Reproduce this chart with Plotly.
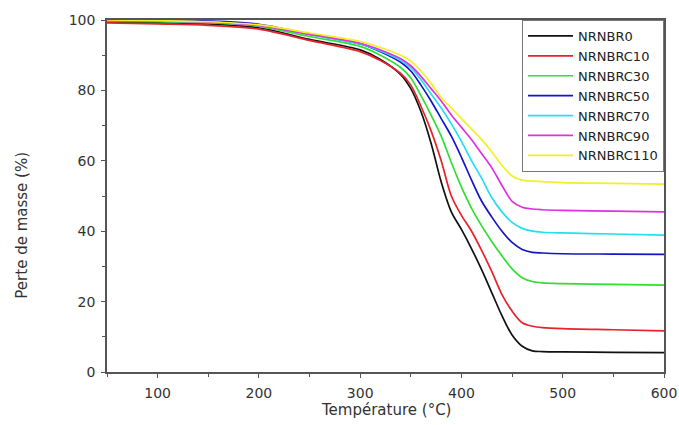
import plotly.graph_objects as go

# Thermogravimetric curves: residual mass (%) versus temperature (°C)
temperature = [50, 100, 150, 200, 250, 300, 320, 340, 350, 360, 370, 380, 390,
               400, 410, 420, 430, 440, 450, 460, 470, 480, 500, 550, 600]

nrnbr0 = [99.4, 99.2, 98.9, 97.8, 94.5, 91.5, 88.8, 84.5, 80.5, 74.0, 65.0, 54.0, 45.5,
          40.5, 35.0, 29.0, 22.5, 16.0, 10.5, 7.3, 6.0, 5.8, 5.7, 5.6, 5.5]
nrnbrc10 = [99.2, 98.9, 98.5, 97.4, 94.2, 91.0, 88.5, 84.8, 81.5, 75.5, 68.5, 60.0, 50.0,
            44.5, 40.0, 34.5, 28.5, 22.0, 17.3, 14.0, 13.0, 12.6, 12.3, 12.0, 11.7]
nrnbrc30 = [99.7, 99.5, 99.2, 98.2, 95.3, 92.5, 90.0, 86.5, 83.5, 78.5, 73.0, 67.0, 59.5,
            52.5, 46.5, 41.5, 37.0, 33.0, 29.3, 26.8, 25.7, 25.3, 25.1, 24.9, 24.7]
nrnbrc50 = [99.9, 99.9, 99.7, 98.8, 96.0, 93.2, 91.0, 88.0, 85.5, 81.5, 77.0, 72.0, 67.0,
            61.0, 54.5, 48.5, 44.0, 40.0, 36.8, 34.8, 34.0, 33.8, 33.6, 33.5, 33.4]
nrnbrc70 = [99.8, 99.7, 99.4, 98.4, 95.8, 93.2, 91.2, 88.5, 86.5, 83.0, 79.0, 75.0, 70.5,
            65.5, 60.0, 55.0, 49.5, 45.5, 42.5, 40.8, 40.0, 39.7, 39.5, 39.2, 38.9]
nrnbrc90 = [99.8, 99.7, 99.4, 98.4, 95.9, 93.4, 91.5, 89.0, 87.0, 84.0, 80.5, 77.0, 73.0,
            69.5, 66.0, 62.0, 58.0, 53.0, 48.5, 46.8, 46.3, 46.1, 45.9, 45.7, 45.5]
nrnbrc110 = [100.0, 99.8, 99.5, 98.6, 96.3, 93.9, 92.2, 90.0, 88.3, 85.5, 82.0, 78.0, 75.0,
             72.0, 69.0, 66.0, 62.5, 58.7, 55.7, 54.5, 54.2, 54.1, 53.8, 53.6, 53.4]

series_names = ["NRNBR0", "NRNBRC10", "NRNBRC30", "NRNBRC50",
                "NRNBRC70", "NRNBRC90", "NRNBRC110"]
series_values = [nrnbr0, nrnbrc10, nrnbrc30, nrnbrc50, nrnbrc70, nrnbrc90, nrnbrc110]
series_colors = ["#111111", "#e8222a", "#33dd33", "#1515c8",
                 "#22e0f0", "#e030e0", "#f2f020"]

x_ticks = [100, 200, 300, 400, 500, 600]
y_ticks = [0, 20, 40, 60, 80, 100]

FONT = "DejaVu Sans, Liberation Sans, Arial"
TEXT_COLOR = "#333333"
AXIS_COLOR = "#555555"

fig = go.Figure()
for name, vals, col in zip(series_names, series_values, series_colors):
    fig.add_trace(go.Scatter(
        x=temperature, y=vals, name=name, mode="lines",
        line=dict(color=col, width=1.7, shape="spline", smoothing=0.9),
    ))

axis_common = dict(
    showline=True, linecolor=AXIS_COLOR, linewidth=1.5, mirror=True,
    showgrid=False, zeroline=False, automargin=False,
    ticks="outside", ticklen=4, tickwidth=1.2, tickcolor=AXIS_COLOR,
    ticklabelstandoff=3,
    tickfont=dict(family=FONT, size=14, color=TEXT_COLOR),
)

fig.update_xaxes(
    range=[50, 600], tickvals=x_ticks,
    minor=dict(ticks="outside", ticklen=3, tickwidth=1.2, tickcolor=AXIS_COLOR,
               dtick=50, tick0=50, showgrid=False),
    **axis_common,
)
fig.update_yaxes(
    range=[0, 100], tickvals=y_ticks,
    minor=dict(ticks="outside", ticklen=3, tickwidth=1.2, tickcolor=AXIS_COLOR,
               dtick=10, showgrid=False),
    **axis_common,
)

# Axis titles
fig.add_annotation(
    text="Température (°C)", xref="paper", yref="paper", x=0.5, y=-0.108,
    xanchor="center", yanchor="middle", showarrow=False,
    font=dict(family=FONT, size=15, color=TEXT_COLOR),
)
fig.add_annotation(
    text="Perte de masse (%)", xref="paper", yref="paper", x=-0.153, y=0.418,
    xanchor="center", yanchor="middle", showarrow=False, textangle=-90,
    font=dict(family=FONT, size=15, color=TEXT_COLOR),
)

fig.update_layout(
    width=679, height=425,
    margin=dict(l=107, r=15, t=20, b=53),
    paper_bgcolor="white", plot_bgcolor="white",
    showlegend=True,
    legend=dict(
        x=1, y=1, xanchor="right", yanchor="top",
        bordercolor="#777777", borderwidth=1, bgcolor="white",
        font=dict(family=FONT, size=13, color="#222222"),
        tracegroupgap=0, itemwidth=45,
    ),
)

fig.write_html("out.html")
